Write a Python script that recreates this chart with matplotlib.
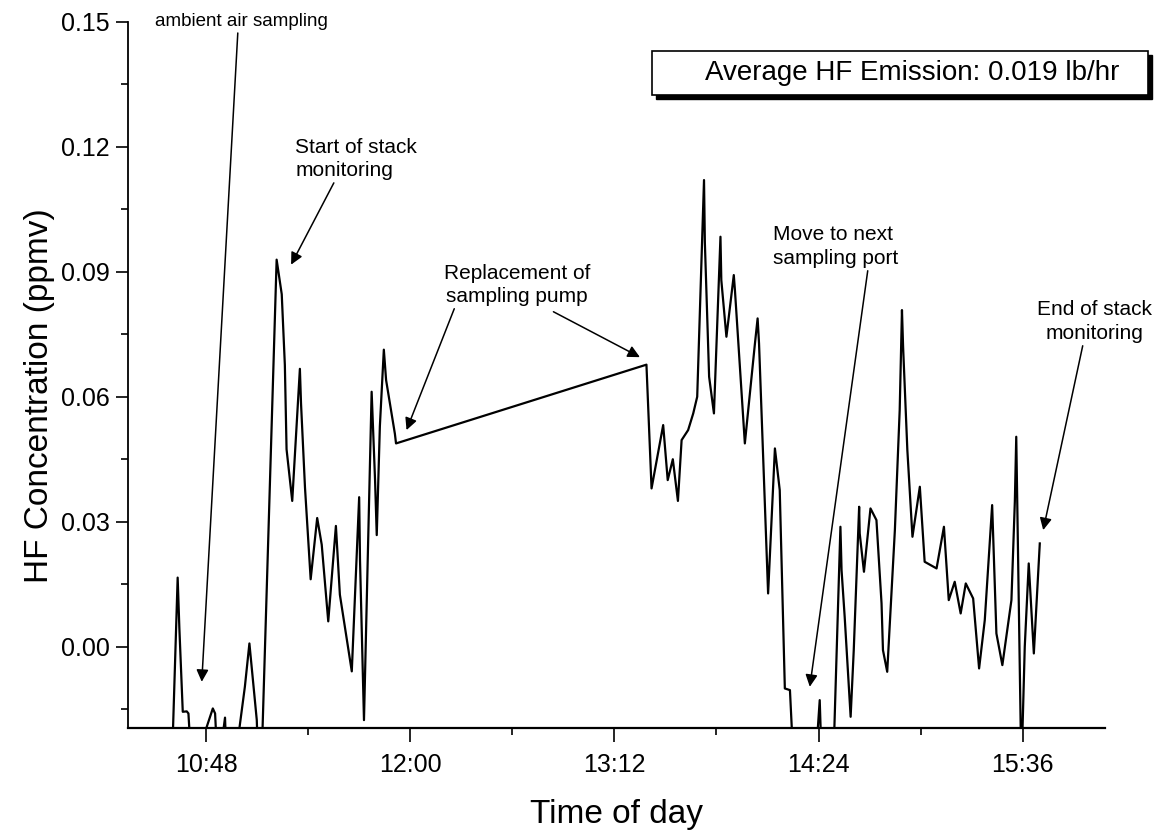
import numpy as np
import pandas as pd
import matplotlib
matplotlib.use("Agg")
import matplotlib.pyplot as plt
from matplotlib.patches import Rectangle
from matplotlib.ticker import FixedLocator, FuncFormatter, MultipleLocator

plt.rcParams['font.family'] = ['Liberation Sans', 'DejaVu Sans']

# HF readings (values below the axis are clipped away)
times = [
    "10:35:54", "10:38:00", "10:38:36", "10:39:48", "10:41:12", "10:41:48", "10:43:00",
    "10:50:24", "10:51:12", "10:52:12", "10:54:42", "10:55:24", "10:59:18", "11:01:42",
    "11:03:18", "11:05:54", "11:06:30", "11:07:42", "11:12:54", "11:14:42", "11:15:48",
    "11:16:24", "11:18:24", "11:21:06", "11:21:30", "11:22:54", "11:24:54", "11:27:12",
    "11:28:48", "11:31:06", "11:33:48", "11:35:12", "11:39:24", "11:42:00", "11:42:18",
    "11:43:42", "11:46:24", "11:47:36", "11:48:12", "11:49:18", "11:50:42", "11:51:30",
    "11:54:36", "11:55:00", "13:23:18", "13:25:06", "13:29:12", "13:30:48", "13:32:36",
    "13:34:24", "13:35:42", "13:38:00", "13:39:48", "13:41:12", "13:43:36", "13:43:54",
    "13:45:24", "13:47:06", "13:49:24", "13:49:42", "13:51:30", "13:54:06", "13:54:30",
    "13:58:00", "14:01:30", "14:02:30", "14:03:00", "14:06:12", "14:08:36", "14:10:18",
    "14:12:06", "14:13:54", "14:15:18", "14:22:42", "14:24:24", "14:25:12", "14:29:06",
    "14:31:42", "14:32:06", "14:33:12", "14:35:18", "14:36:24", "14:38:18", "14:38:30",
    "14:40:00", "14:42:18", "14:44:24", "14:46:12", "14:46:42", "14:48:12", "14:50:54",
    "14:52:36", "14:53:24", "14:53:48", "14:55:18", "14:57:06", "14:59:42", "15:01:24",
    "15:05:36", "15:08:12", "15:09:54", "15:12:00", "15:14:06", "15:15:54", "15:18:30",
    "15:20:36", "15:22:36", "15:25:12", "15:26:42", "15:28:48", "15:32:00", "15:33:12",
    "15:33:42", "15:35:30", "15:36:42", "15:38:06", "15:39:54", "15:42:00",
]
hf = [
    -0.03, 0.0166, 0.0045, -0.0156, -0.0155, -0.016, -0.03,
    -0.0148, -0.016, -0.03, -0.017, -0.03, -0.022, -0.0096,
    0.0008, -0.0176, -0.03, -0.025, 0.0929, 0.0846, 0.0676,
    0.0474, 0.035, 0.0667, 0.0584, 0.0382, 0.0162, 0.0309,
    0.0245, 0.0061, 0.029, 0.0125, -0.0059, 0.0359, 0.0208,
    -0.0176, 0.0612, 0.0401, 0.0268, 0.0529, 0.0713, 0.064,
    0.0511, 0.0488, 0.0677, 0.038, 0.0532, 0.040, 0.045,
    0.035, 0.0496, 0.052, 0.056, 0.060, 0.112, 0.097,
    0.0648, 0.056, 0.0984, 0.088, 0.0744, 0.0892, 0.0856,
    0.0488, 0.0724, 0.0788, 0.0728, 0.0128, 0.0476, 0.0376,
    -0.010, -0.0104, -0.03, -0.03, -0.0128, -0.03, -0.03,
    0.0288, 0.0184, 0.0072, -0.0168, -0.0008, 0.0336, 0.0272,
    0.018, 0.0332, 0.0304, 0.0104, -0.0008, -0.006, 0.028,
    0.0568, 0.0808, 0.072, 0.0472, 0.0264, 0.0384, 0.0204,
    0.0188, 0.0288, 0.0112, 0.0156, 0.008, 0.0152, 0.0116,
    -0.0052, 0.0064, 0.034, 0.0032, -0.0044, 0.0112, 0.0348,
    0.0504, -0.03, 0.000, 0.020, -0.0016, 0.0248,
]

major_ticks = ["10:48", "12:00", "13:12", "14:24", "15:36"]


def to_minutes(s):
    t = pd.to_timedelta(s if s.count(":") == 2 else s + ":00")
    return t.total_seconds() / 60.0


df = pd.DataFrame({"t": [to_minutes(s) for s in times], "hf": hf})
major = [to_minutes(s) for s in major_ticks]
minor = [m + 36 for m in major[:-1]] + [major[0] - 36, major[-1] + 36]

fig = plt.figure(figsize=(11.66, 8.35), dpi=100)
ax = fig.add_axes([0.1098, 0.1281, 0.8379, 0.8459])

ax.plot(df["t"], df["hf"], color="black", lw=1.6)

ax.set_xlim(620.5, 965)
ax.set_ylim(-0.0195, 0.15)

ax.xaxis.set_major_locator(FixedLocator(major))
ax.xaxis.set_minor_locator(FixedLocator(minor))
ax.xaxis.set_major_formatter(FuncFormatter(lambda v, p: "%d:%02d" % (int(v // 60), int(round(v % 60)))))
ax.yaxis.set_major_locator(MultipleLocator(0.03))
ax.yaxis.set_minor_locator(MultipleLocator(0.015))
ax.yaxis.set_major_formatter(FuncFormatter(lambda v, p: "%.2f" % (0 if abs(v) < 1e-9 else v)))

for s in ["top", "right"]:
    ax.spines[s].set_visible(False)
ax.spines["left"].set_linewidth(1.3)
ax.spines["bottom"].set_linewidth(1.6)
ax.tick_params(which="major", direction="out", length=9, width=1.2, labelsize=18, pad=4)
ax.tick_params(axis="x", which="major", length=10, pad=8)
ax.tick_params(which="minor", direction="out", length=5, width=1.2)

ax.set_xlabel("Time of day", fontsize=24)
ax.set_ylabel("HF Concentration (ppmv)", fontsize=24)
ax.xaxis.set_label_coords(0.5, -0.1)
ax.yaxis.set_label_coords(-0.075, 0.47)

arrow = dict(arrowstyle="-|>", color="black", lw=1.1, mutation_scale=18,
             shrinkA=0, shrinkB=0)
ax.annotate("ambient air sampling", xy=(646.5, -0.0084), xytext=(630, 0.1500),
            fontsize=13.5, ha="left", va="center",
            arrowprops=dict(arrow, relpos=(0.48, 0.0)))
ax.annotate("Start of stack\nmonitoring", xy=(678, 0.0917), xytext=(679.4, 0.117),
            fontsize=15, ha="left", va="center", linespacing=1.25,
            arrowprops=dict(arrow, relpos=(0.33, 0.0)))
ax.annotate("Replacement of\nsampling pump", xy=(718.7, 0.052), xytext=(757.6, 0.0868),
            fontsize=15, ha="center", va="center", linespacing=1.25,
            arrowprops=dict(arrow, relpos=(0.08, 0.0)))
ax.annotate("", xy=(801, 0.0695), xytext=(770.5, 0.0804), arrowprops=arrow)
ax.annotate("Move to next\nsampling port", xy=(860.9, -0.0096), xytext=(847.9, 0.096),
            fontsize=15, ha="left", va="center", linespacing=1.3,
            arrowprops=dict(arrow, relpos=(0.76, 0.0)))
ax.annotate("End of stack\nmonitoring", xy=(943.2, 0.028), xytext=(961.4, 0.078),
            fontsize=15, ha="center", va="center", linespacing=1.3,
            arrowprops=dict(arrow, relpos=(0.4, 0.0)))

# boxed note with drop shadow
W, H = 1166.0, 835.0
bx0, bx1, by0, by1 = 652, 1148, 51, 95
fig.patches.append(Rectangle((bx0 / W + 4 / W, 1 - by1 / H - 4 / H), (bx1 - bx0) / W, (by1 - by0) / H,
                             transform=fig.transFigure, facecolor="black", edgecolor="black", zorder=5))
fig.patches.append(Rectangle((bx0 / W, 1 - by1 / H), (bx1 - bx0) / W, (by1 - by0) / H,
                             transform=fig.transFigure, facecolor="white", edgecolor="black", lw=1.2, zorder=6))
fig.text(912 / W, 1 - (by0 + by1) / 2 / H, "Average HF Emission: 0.019 lb/hr",
         ha="center", va="center", fontsize=20, zorder=7)

fig.savefig("out.png", dpi=100)
